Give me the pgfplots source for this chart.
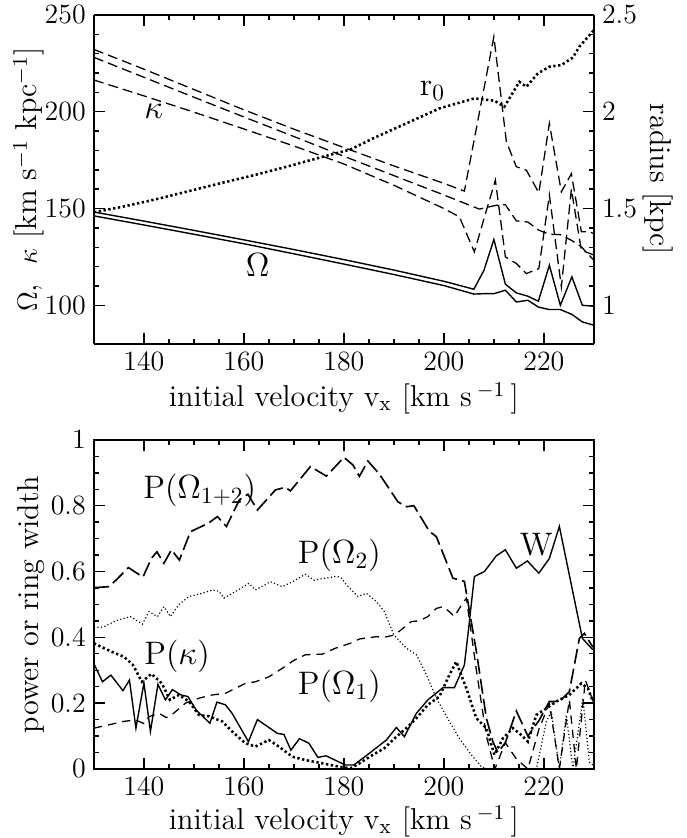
\documentclass[border=0pt]{standalone}
\usepackage{pgfplots}
\pgfplotsset{compat=1.18}

\tikzset{
  solidln/.style={black,line width=0.6pt},
  kdash/.style={black,line width=0.55pt,dash pattern=on 4.3pt off 2.2pt},
  bigdot/.style={black,line width=1.1pt,dash pattern=on 1pt off 1.1pt},
  smalldot/.style={black,line width=0.5pt,dash pattern=on 0.5pt off 1pt},
  shortdash/.style={black,line width=0.55pt,dash pattern=on 3.6pt off 2.6pt},
  longdash/.style={black,line width=0.7pt,dash pattern=on 6.5pt off 2.2pt},
  lbl/.style={font=\fontsize{14}{16}\selectfont,inner sep=0pt,anchor=base west},
  axlbl/.style={font=\fontsize{13}{15}\selectfont,anchor=center},
}

\pgfplotsset{
  panel/.style={
    width=215pt,height=141.5pt,scale only axis,
    xmin=130,xmax=230,
    xtick={140,160,180,200,220},minor x tick num=3,
    tick align=inside,
    major tick length=4.6pt,minor tick length=2.3pt,
    axis line style={line width=0.7pt},
    tick style={black,line width=0.6pt},
    tick label style={font=\fontsize{12}{14}\selectfont},
    every axis x label/.style={at={(axis description cs:0.5,-0.165)},axlbl},
    every axis y label/.style={at={(axis description cs:-0.13,0.5)},rotate=90,axlbl},
  },
}

\begin{document}
\begin{tikzpicture}
\useasboundingbox (-40.4pt,-29.7pt) rectangle (255pt,330.7pt);

% top panel: Omega and kappa
\begin{axis}[panel,at={(0,182.75pt)},anchor=south west,
  ymin=80,ymax=250,ytick={100,150,200,250},minor y tick num=4,
  axis y line*=left,
  xlabel={initial velocity v$_{\mathrm{x}}$ [km s\,$^{-1}$\,]},
  ylabel={$\Omega$,\ \ $\kappa$ [km s$^{-1}$ kpc$^{-1}$]}]
% Omega (upper)
\addplot[solidln] coordinates {(130,148.2) (140,143.5) (150,138.7) (160,133.8) (170,128.8)
  (180,123.6) (190,118.2) (200,112.4) (206,108.3) (208,118) (210,134) (212.3,110.9)
  (214.5,106.4) (216.8,104.7) (218.9,102.1) (221.1,120.7) (223.3,100) (225.6,114.7)
  (227.7,100) (230,99.5)};
% Omega (lower)
\addplot[solidln] coordinates {(130,146.2) (140,141.5) (150,136.7) (160,131.8) (170,126.6)
  (180,121.3) (190,115.9) (200,110.2) (206,105.8) (208,106) (210,106) (212.3,107.8)
  (214.5,101.7) (216.8,102.6) (218.9,99.1) (221.1,97.8) (223.3,97.8) (225.6,95.3)
  (227.7,91.4) (230,89.7)};
% kappa (three runs)
\addplot[kdash] coordinates {(130,232.2) (140,222) (150,211.5) (160,201) (170,191)
  (180,181.5) (190,172) (200,163) (204.1,159) (210,238.8) (212.5,184.5) (214.5,171.6)
  (216.5,169.8) (219,158.1) (221.1,194) (223.5,158.6) (225.5,168) (227.5,138)
  (229.1,138) (230,137)};
\addplot[kdash] coordinates {(130,228.1) (140,217.8) (150,207.5) (160,197.3) (170,187.2)
  (180,177) (190,167) (200,157) (207.1,149.7) (210.5,151.7) (212.3,152) (214.5,143.6)
  (216.8,143) (219,138.8) (221.1,136.7) (223.3,136.5) (225.5,133.6) (227.5,130.2)
  (230,123.3)};
\addplot[kdash] coordinates {(130,216.4) (140,208.2) (150,199.8) (160,191.1) (170,182.3)
  (180,173) (190,162) (200,150) (203.1,145.7) (206.1,127.6) (208.5,149) (210.3,164.7)
  (212.3,125) (214.5,121.6) (216.5,116.4) (219,119) (221.1,157) (223.5,109.5)
  (225.5,160) (227.5,128.4) (230,126)};
\node[lbl] at (axis cs:195.1,208.6) {r$_0$};
\node[lbl] at (axis cs:140,196.6) {$\kappa$};
\node[lbl] at (axis cs:160.3,114.7) {$\Omega$};
\end{axis}

% top panel: radius r0 on right axis
\begin{axis}[panel,at={(0,182.75pt)},anchor=south west,
  axis x line=none,axis y line*=right,
  ymin=0.8,ymax=2.5,ytick={1,1.5,2,2.5},minor y tick num=4,
  ylabel={radius [kpc]},
  every axis y label/.style={at={(axis description cs:1.128,0.5)},rotate=-90,axlbl}]
\addplot[bigdot] coordinates {(130,1.481) (135.7,1.509) (142.3,1.547) (149,1.59)
  (155.7,1.633) (162.3,1.674) (169,1.719) (175.7,1.767) (181.3,1.805) (185.8,1.862)
  (192.5,1.94) (199.1,2.017) (206.1,2.069) (210.1,2.057) (212.1,2.026) (215.1,2.155)
  (216.5,2.129) (218.8,2.198) (221.1,2.233) (223.5,2.241) (225.8,2.28) (227.1,2.336)
  (230,2.422)};
\end{axis}

% bottom panel: power and ring width
\begin{axis}[panel,at={(0,0)},anchor=south west,
  ymin=0,ymax=1,ytick={0,0.2,0.4,0.6,0.8,1},minor y tick num=3,
  xlabel={initial velocity v$_{\mathrm{x}}$ [km s\,$^{-1}$\,]},
  ylabel={power or ring width},
  every axis x label/.style={at={(axis description cs:0.5,-0.16)},axlbl},
  every axis y label/.style={at={(axis description cs:-0.126,0.5)},rotate=90,axlbl}]
% W
\addplot[solidln] coordinates {(130,0.32) (131.7,0.265) (133.4,0.285) (135.8,0.238)
  (137.1,0.27) (138.4,0.124) (140,0.261) (141.3,0.114) (142.8,0.257) (144.3,0.21)
  (145.7,0.241) (147.4,0.225) (148.8,0.22) (150.5,0.178) (153.2,0.139) (154.6,0.203)
  (156.3,0.195) (157.6,0.17) (160.9,0.083) (162.7,0.15) (166.7,0.108) (168,0.105)
  (169.4,0.057) (171.1,0.092) (173,0.078) (174.8,0.035) (176.4,0.04) (180.3,0.012)
  (182,0.012) (185.3,0.05) (188.5,0.088) (190.5,0.126) (192.1,0.098) (194.5,0.169)
  (196.8,0.21) (199.8,0.247) (202.1,0.247) (204.1,0.316) (204.8,0.407) (206.1,0.585)
  (208.1,0.6) (210.5,0.648) (212.3,0.666) (214.5,0.61) (216.7,0.632) (219,0.595)
  (221.1,0.64) (223.1,0.737) (227.7,0.397) (229.8,0.362)};
% P(Omega_1+2)
\addplot[longdash] coordinates {(130,0.551) (133,0.554) (134.5,0.575) (136.9,0.612)
  (139.8,0.583) (141.5,0.64) (142.6,0.66) (144,0.625) (145.5,0.666) (147.1,0.635)
  (149.3,0.721) (152.9,0.747) (154.7,0.767) (156.5,0.737) (159.1,0.818) (160.8,0.835)
  (162.7,0.787) (166.3,0.848) (168.3,0.856) (169.3,0.845) (173.3,0.919) (176.5,0.89)
  (180,0.947) (181.8,0.924) (183.1,0.889) (184.8,0.936) (187.1,0.896) (190.8,0.812)
  (192.5,0.797) (194,0.8) (197.1,0.722) (198.5,0.706) (201.8,0.58) (204.1,0.57)
  (206.5,0.357) (208.5,0.154) (209.8,0.083) (210.8,0.05) (212.3,0.08) (214.5,0.176)
  (216.8,0.1) (219.1,0.149) (221.1,0.205) (223.1,0.205) (225.1,0.235) (227.1,0.397)
  (228.1,0.412) (229.8,0.37)};
% P(Omega_2)
\addplot[smalldot] coordinates {(130,0.43) (132,0.432) (134.3,0.45) (137.3,0.463)
  (139.7,0.44) (141,0.478) (142.7,0.463) (144,0.493) (145.3,0.463) (147,0.5)
  (149,0.524) (151.7,0.534) (153.7,0.544) (155,0.54) (156,0.519) (158.3,0.539)
  (161,0.564) (162.3,0.544) (165.3,0.569) (167.7,0.554) (169.7,0.569) (172.3,0.592)
  (174,0.574) (176.3,0.58) (178.7,0.585) (179.5,0.58) (180.5,0.56) (182.8,0.524)
  (184.5,0.534) (186.5,0.509) (188.1,0.478) (190,0.407) (192.5,0.367) (194.5,0.347)
  (196.5,0.286) (198.5,0.215) (201.1,0.144) (203.1,0.093) (205.5,0.043) (207.5,0.007)
  (208.5,0) (218.5,0) (220.5,0.144) (221.5,0.174) (223.1,0) (224.5,0.164) (225.8,0)
  (227.8,0.215) (229.1,0.02) (230,0.01)};
% P(Omega_1)
\addplot[shortdash] coordinates {(130,0.124) (133,0.134) (135.7,0.144) (138.3,0.149)
  (140,0.138) (141,0.159) (143,0.169) (144.5,0.156) (145.7,0.166) (148.3,0.2)
  (151,0.215) (153.7,0.225) (156.3,0.23) (160.3,0.26) (162.3,0.265) (165,0.28)
  (167.7,0.306) (170,0.33) (172.3,0.347) (175.7,0.349) (178.3,0.367) (181.3,0.382)
  (183.1,0.395) (186.5,0.402) (188,0.4) (190.1,0.407) (191.8,0.427) (193.5,0.448)
  (195,0.45) (196.8,0.463) (198.5,0.488) (199.8,0.493) (201.1,0.478) (202.1,0.463)
  (203.5,0.498) (204.5,0.519) (206.5,0.3) (208.5,0.1) (210.2,0) (212.3,0.08)
  (214.5,0.03) (216.8,0) (219,0.12) (221.1,0.2) (223.1,0) (225.1,0.21) (226.5,0)
  (228.3,0.27) (230,0.2)};
% P(kappa)
\addplot[bigdot] coordinates {(130,0.382) (133.4,0.357) (136,0.341) (137.8,0.316)
  (139.6,0.265) (141.5,0.289) (143.6,0.26) (145.2,0.21) (147,0.225) (149,0.205)
  (151,0.164) (153,0.16) (155.7,0.144) (157.7,0.113) (160.3,0.078) (162.3,0.068)
  (165,0.088) (167,0.068) (169.7,0.037) (172.3,0.027) (175.7,0.017) (179,0.007)
  (181.3,0.002) (183.1,0.017) (185.8,0.043) (188.1,0.063) (190.5,0.098) (192.5,0.124)
  (194.5,0.154) (196.8,0.195) (199.1,0.22) (201.1,0.286) (202.5,0.326) (203.1,0.3)
  (204.5,0.245) (206.5,0.154) (208.5,0.124) (210.1,0.043) (211.8,0.093) (213.8,0.124)
  (215.5,0.103) (216.8,0.083) (218.5,0.164) (220.5,0.184) (222.5,0.205) (225.1,0.225)
  (227.5,0.26) (228.8,0.245) (229.8,0.205)};
\node[lbl] at (axis cs:139.8,0.823) {P($\Omega_{1+2}$)};
\node[lbl] at (axis cs:170.7,0.625) {P($\Omega_2$)};
\node[lbl] at (axis cs:215.1,0.65) {W};
\node[lbl] at (axis cs:140,0.316) {P($\kappa$)};
\node[lbl] at (axis cs:170.7,0.225) {P($\Omega_1$)};
\end{axis}
\end{tikzpicture}
\end{document}
